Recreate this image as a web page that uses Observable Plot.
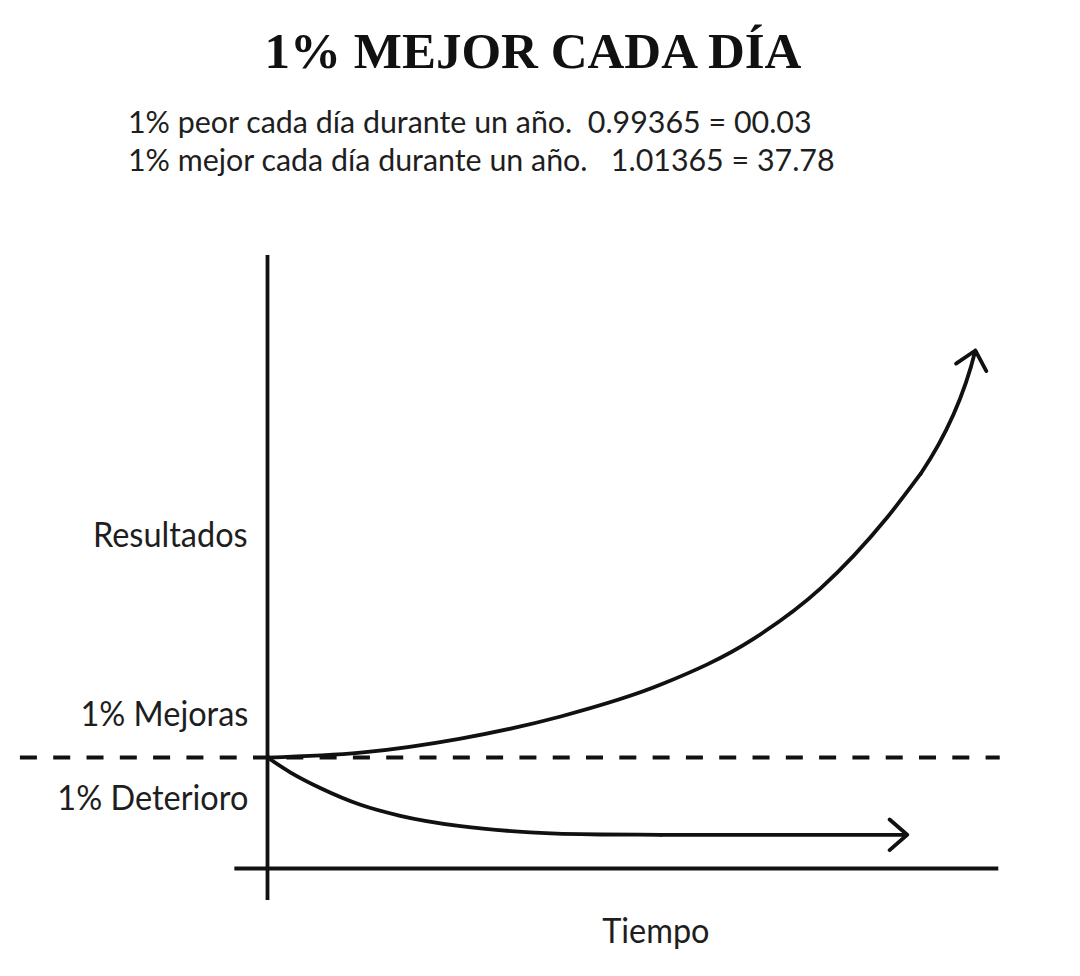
<!DOCTYPE html>
<html>
<head>
<meta charset="utf-8">
<script src="https://cdn.jsdelivr.net/npm/d3@7"></script>
<script src="https://cdn.jsdelivr.net/npm/@observablehq/plot@0.6"></script>
<style>
  html, body { margin: 0; padding: 0; background: #fff; }
  #header { position: relative; width: 1080px; height: 200px; }
  #title { position: absolute; left: 0; top: 26px; width: 1066px; margin: 0; text-align: center;
           font: bold 51px/50px "Liberation Serif", serif; color: #111; }
  .sub { position: absolute; left: 128px; margin: 0; font: 31px/38px Lato, sans-serif; color: #1e1e1e;
         white-space: pre; transform-origin: 0 0; transform: scaleX(0.98); }
  #sub1 { top: 102px; }
  #sub2 { top: 140px; }
  #chart svg { display: block; }
</style>
</head>
<body>
<div id="header">
  <h1 id="title"></h1>
  <div class="sub" id="sub1"></div>
  <div class="sub" id="sub2"></div>
</div>
<div id="chart"></div>
<script>
// ---- Texts ----
const titulo = "1% MEJOR CADA DÍA";
const subtitulos = [
  "1% peor cada día durante un año.  0.99365 = 00.03",
  "1% mejor cada día durante un año.   1.01365 = 37.78"
];

// ---- Curves (tiempo 0–100, resultados 0–100) ----
const tiempoMejora     = [0, 13.1, 27.2, 41.3, 55.4, 68.5, 77.9, 87.3, 92.0];
const resultadoMejora  = [18.1, 18.9, 21.2, 24.8, 30.0, 37.5, 45.7, 57.3, 64.4];
const tiempoDeterioro    = [0, 3.2, 7.5, 13.1, 18.7, 27.2, 37.0, 46.9, 55.4];
const resultadoDeterioro = [18.1, 15.7, 13.1, 10.4, 8.6, 6.9, 5.9, 5.55, 5.5];

// arrow ends of the curves
const flechaMejora    = [{x1: 92.0, y1: 64.4, x2: 99.7, y2: 84.5}];
const flechaDeterioro = [{x1: 55.4, y1: 5.5, x2: 90.1, y2: 5.5}];

// reference lines
const lineaBase     = [{v: 18.1, t1: -34.8, t2: 103.2}];
const ejeResultados = [{t: 0, v1: -5.2, v2: 100}];
const ejeTiempo     = [{v: 0, t1: -4.6, t2: 103}];

// labels
const etiquetasEje   = ["Resultados", "1% Mejoras", "1% Deterioro"];
const etiquetasEjeT  = [-2.8, -2.7, -2.7];
const etiquetasEjeV  = [52.4, 23.2, 9.6];
const etiquetaTiempo = ["Tiempo"];
const etiquetaTiempoT = [54.7];
const etiquetaTiempoV = [-12.2];

// ---- Build tables ----
const mejora = tiempoMejora.map((t, i) => ({t, v: resultadoMejora[i]}));
const deterioro = tiempoDeterioro.map((t, i) => ({t, v: resultadoDeterioro[i]}));
const etiquetas = etiquetasEje.map((texto, i) => ({texto, t: etiquetasEjeT[i], v: etiquetasEjeV[i]}));
const etiquetasX = etiquetaTiempo.map((texto, i) => ({texto, t: etiquetaTiempoT[i], v: etiquetaTiempoV[i]}));

document.getElementById("title").textContent = titulo;
document.getElementById("sub1").textContent = subtitulos[0];
document.getElementById("sub2").textContent = subtitulos[1];

const ink = "#111";
const sw = 3.8;

const plot = Plot.plot({
  width: 1080,
  height: 776,
  margin: 0,
  x: {domain: [0, 100], range: [267, 977], axis: null},
  y: {domain: [0, 100], range: [668, 55], axis: null},
  style: {fontFamily: 'Lato, sans-serif', background: "white", color: ink},
  marks: [
    Plot.ruleY(lineaBase, {y: "v", x1: "t1", x2: "t2", stroke: ink, strokeWidth: 4, strokeDasharray: "17,16.3"}),
    Plot.ruleX(ejeResultados, {x: "t", y1: "v1", y2: "v2", stroke: ink, strokeWidth: sw}),
    Plot.ruleY(ejeTiempo, {y: "v", x1: "t1", x2: "t2", stroke: ink, strokeWidth: sw}),
    Plot.line(mejora, {x: "t", y: "v", curve: "monotone-x", stroke: ink, strokeWidth: sw}),
    Plot.line(deterioro, {x: "t", y: "v", curve: "monotone-x", stroke: ink, strokeWidth: sw}),
    Plot.arrow(flechaMejora, {x1: "x1", y1: "y1", x2: "x2", y2: "y2", bend: -10, headLength: 9.2, headAngle: 84,
      stroke: ink, strokeWidth: sw, strokeLinecap: "round", strokeLinejoin: "round"}),
    Plot.arrow(flechaDeterioro, {x1: "x1", y1: "y1", x2: "x2", y2: "y2", headLength: 9.2, headAngle: 82,
      stroke: ink, strokeWidth: sw, strokeLinecap: "round", strokeLinejoin: "round"}),
    Plot.text(etiquetas, {x: "t", y: "v", text: "texto", textAnchor: "end", lineAnchor: "bottom",
      fontSize: 34, fill: "#1e1e1e"}),
    Plot.text(etiquetasX, {x: "t", y: "v", text: "texto", textAnchor: "middle", lineAnchor: "bottom",
      fontSize: 34, fill: "#1e1e1e"})
  ]
});

document.getElementById("chart").append(plot);

// condensed look of the original lettering
const condensar = 0.955;
plot.querySelectorAll('g[aria-label="text"] text').forEach(el => {
  const w = el.getComputedTextLength();
  el.setAttribute("textLength", (w * condensar).toFixed(1));
  el.setAttribute("lengthAdjust", "spacingAndGlyphs");
});
</script>
</body>
</html>
